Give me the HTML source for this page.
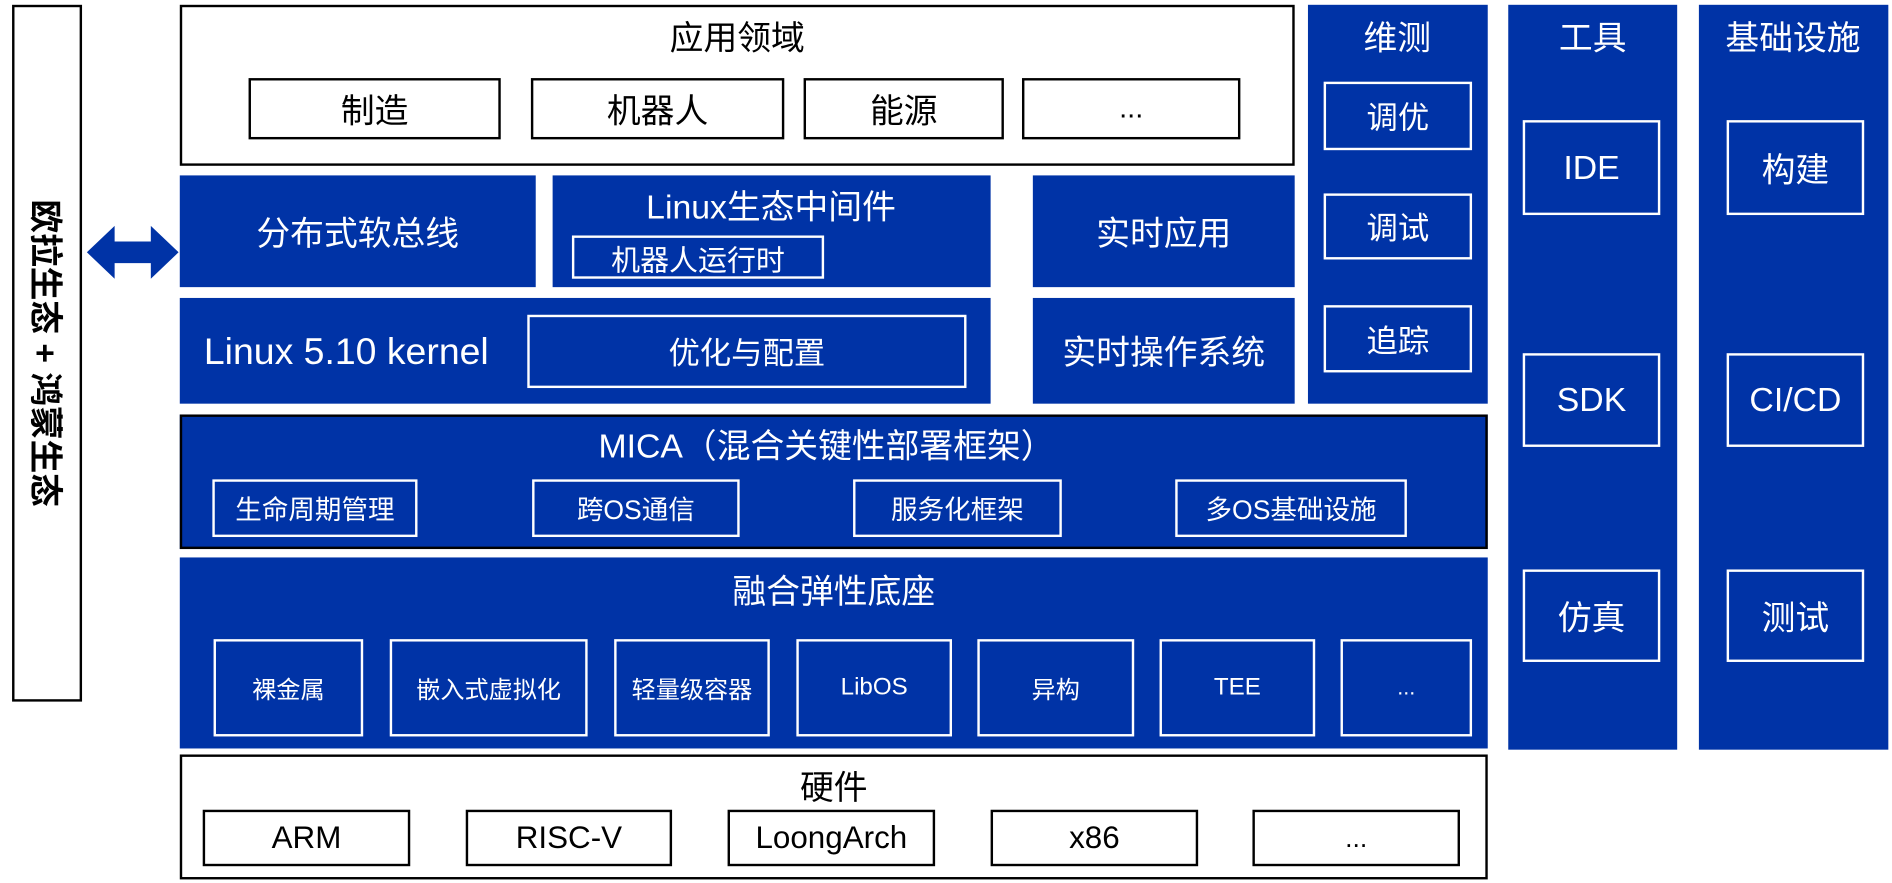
<!DOCTYPE html>
<html><head><meta charset="utf-8"><style>
html,body{margin:0;padding:0;background:#fff;width:1892px;height:883px;overflow:hidden}
#w{position:absolute;left:0;top:0;width:1568px;height:735px;transform-origin:0 0;transform:scale(1.2066,1.2014);font-family:"Liberation Sans","Noto Sans CJK SC",sans-serif}
.a{position:absolute;box-sizing:border-box;display:flex;align-items:center;justify-content:center;text-align:center;white-space:nowrap}
.b{background:#0033a6;color:#fff}
.wb{background:#fff;border:2px solid #000;color:#000}
.ib{border:2px solid #fff;color:#fff}
.t{position:absolute;color:#fff;transform:translate(-50%,-50%);white-space:nowrap}
.k{color:#000}
</style></head><body><div id="w">
<div class="a wb" style="left:10px;top:4px;width:58px;height:580px"></div>
<div class="t k" style="left:39px;top:294px;transform:translate(-50%,-50%) rotate(90deg);font-size:28px;font-weight:bold">欧拉生态 + 鸿蒙生态</div>
<svg style="position:absolute;left:70px;top:186px" width="80" height="48"><polygon points="2,24 25,2 25,15 55,15 55,2 78,24 55,46 55,33 25,33 25,46" fill="#0033a6"/></svg>

<div class="a wb" style="left:149px;top:4px;width:924px;height:134px"></div>
<div class="t k" style="left:611px;top:30px;font-size:28px">应用领域</div>
<div class="a wb" style="left:206px;top:65px;width:209px;height:51px;font-size:28px">制造</div>
<div class="a wb" style="left:440px;top:65px;width:210px;height:51px;font-size:28px">机器人</div>
<div class="a wb" style="left:666px;top:65px;width:166px;height:51px;font-size:28px">能源</div>
<div class="a wb" style="left:847px;top:65px;width:181px;height:51px;font-size:24px">...</div>

<div class="a b" style="left:149px;top:146px;width:295px;height:93px;font-size:28px">分布式软总线</div>
<div class="a b" style="left:458px;top:146px;width:363px;height:93px"></div>
<div class="t" style="left:639px;top:171px;font-size:28px">Linux生态中间件</div>
<div class="a ib" style="left:474px;top:196px;width:209px;height:36px;font-size:24px">机器人运行时</div>
<div class="a b" style="left:856px;top:146px;width:217px;height:93px;font-size:28px">实时应用</div>

<div class="a b" style="left:149px;top:248px;width:672px;height:88px"></div>
<div class="t" style="left:287px;top:293px;font-size:31px">Linux 5.10 kernel</div>
<div class="a ib" style="left:437px;top:262px;width:364px;height:61px;font-size:26px">优化与配置</div>
<div class="a b" style="left:856px;top:248px;width:217px;height:88px;font-size:28px">实时操作系统</div>

<div class="a b" style="left:1084px;top:4px;width:149px;height:332px"></div>
<div class="t" style="left:1158px;top:30px;font-size:28px">维测</div>
<div class="a ib" style="left:1097px;top:68px;width:123px;height:57px;font-size:26px">调优</div>
<div class="a ib" style="left:1097px;top:161px;width:123px;height:55px;font-size:26px">调试</div>
<div class="a ib" style="left:1097px;top:254px;width:123px;height:56px;font-size:26px">追踪</div>

<div class="a b" style="left:149px;top:345px;width:1084px;height:112px;border:2px solid #000"></div>
<div class="t" style="left:685px;top:370px;font-size:28px">MICA（混合关键性部署框架）</div>
<div class="a ib" style="left:176px;top:399px;width:170px;height:48px;font-size:22px">生命周期管理</div>
<div class="a ib" style="left:441px;top:399px;width:172px;height:48px;font-size:22px">跨OS通信</div>
<div class="a ib" style="left:707px;top:399px;width:173px;height:48px;font-size:22px">服务化框架</div>
<div class="a ib" style="left:974px;top:399px;width:192px;height:48px;font-size:22px">多OS基础设施</div>

<div class="a b" style="left:149px;top:464px;width:1084px;height:159px"></div>
<div class="t" style="left:691px;top:491px;font-size:28px">融合弹性底座</div>
<div class="a ib" style="left:177px;top:532px;width:124px;height:81px;font-size:20px">裸金属</div>
<div class="a ib" style="left:323px;top:532px;width:164px;height:81px;font-size:20px">嵌入式虚拟化</div>
<div class="a ib" style="left:509px;top:532px;width:129px;height:81px;font-size:20px">轻量级容器</div>
<div class="a ib" style="left:660px;top:532px;width:129px;height:81px;font-size:20px">LibOS</div>
<div class="a ib" style="left:810px;top:532px;width:130px;height:81px;font-size:20px">异构</div>
<div class="a ib" style="left:961px;top:532px;width:129px;height:81px;font-size:20px">TEE</div>
<div class="a ib" style="left:1111px;top:532px;width:109px;height:81px;font-size:18px">...</div>

<div class="a wb" style="left:149px;top:628px;width:1084px;height:104px"></div>
<div class="t k" style="left:691px;top:654px;font-size:28px">硬件</div>
<div class="a wb" style="left:168px;top:674px;width:172px;height:47px;font-size:26px">ARM</div>
<div class="a wb" style="left:386px;top:674px;width:171px;height:47px;font-size:26px">RISC-V</div>
<div class="a wb" style="left:603px;top:674px;width:172px;height:47px;font-size:26px">LoongArch</div>
<div class="a wb" style="left:821px;top:674px;width:172px;height:47px;font-size:26px">x86</div>
<div class="a wb" style="left:1038px;top:674px;width:172px;height:47px;font-size:22px">...</div>

<div class="a b" style="left:1250px;top:4px;width:140px;height:620px"></div>
<div class="t" style="left:1320px;top:30px;font-size:28px">工具</div>
<div class="a ib" style="left:1262px;top:100px;width:114px;height:79px;font-size:28px">IDE</div>
<div class="a ib" style="left:1262px;top:294px;width:114px;height:78px;font-size:28px">SDK</div>
<div class="a ib" style="left:1262px;top:474px;width:114px;height:77px;font-size:28px">仿真</div>

<div class="a b" style="left:1408px;top:4px;width:157px;height:620px"></div>
<div class="t" style="left:1486px;top:30px;font-size:28px">基础设施</div>
<div class="a ib" style="left:1431px;top:100px;width:114px;height:79px;font-size:28px">构建</div>
<div class="a ib" style="left:1431px;top:294px;width:114px;height:78px;font-size:28px">CI/CD</div>
<div class="a ib" style="left:1431px;top:474px;width:114px;height:77px;font-size:28px">测试</div>
</div></body></html>
